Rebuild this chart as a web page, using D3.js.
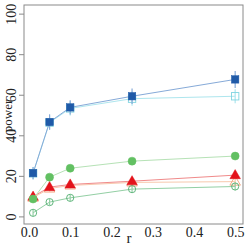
<!DOCTYPE html>
<html>
<head>
<meta charset="utf-8">
<script src="https://cdn.jsdelivr.net/npm/d3@7"></script>
<style>
  body { margin: 0; background: #fff; }
  text { font-family: "Liberation Serif", "DejaVu Serif", serif; }
</style>
</head>
<body>
<script>
'use strict';

let rValues = [0.01, 0.05, 0.1, 0.25, 0.5];
let xTicks = [0.0, 0.1, 0.2, 0.3, 0.4, 0.5];
let yTicks = [0, 20, 40, 60, 80, 100];

// power values per series
let orangeOpen = [9.5, 14, 15.5, 17, 17.4];
let orangeOpenErr = [1.5, 1.5, 1.5, 1.5, 1.5];
let greenOpen = [2, 7.3, 9.4, 13.7, 15];
let greenOpenErr = [1.5, 1.5, 1.5, 1.5, 1.8];
let redFilled = [10, 14.7, 16, 17.6, 20.6];
let redFilledErr = [1.5, 1.5, 1.5, 1.5, 1.8];
let greenFilled = [8.8, 19.6, 24, 27.5, 30];
let greenFilledErr = [1.5, 1.5, 1.5, 1.5, 1.8];
let cyanOpen = [21.5, 46.5, 53.5, 58.3, 59.5];
let cyanOpenErr = [3, 3.5, 3.5, 3.5, 3.5];
let blueFilled = [21.6, 46.8, 54, 59.5, 67.8];
let blueFilledErr = [3, 3.8, 3.5, 3.8, 4.2];

let width = 249;
let height = 249;
let mLeft = 24, mRight = 243, mTop = 5, mBottom = 224;

let x = d3.scaleLinear().domain([-0.012, 0.519]).range([mLeft, mRight]);
let y = d3.scaleLinear().domain([-3.5, 104.5]).range([mBottom, mTop]);

let series = [
  {vals: orangeOpen, err: orangeOpenErr, shape: 'tri', fill: 'none', stroke: '#f2a27a', line: '#f8c9ae'},
  {vals: greenOpen, err: greenOpenErr, shape: 'circle', fill: 'none', stroke: '#4fae6e', line: '#93cfa4'},
  {vals: redFilled, err: redFilledErr, shape: 'tri', fill: '#e3131b', stroke: '#e3131b', line: '#f08a8a'},
  {vals: greenFilled, err: greenFilledErr, shape: 'circle', fill: '#62c062', stroke: '#62c062', line: '#b6e2b6'},
  {vals: cyanOpen, err: cyanOpenErr, shape: 'square', fill: 'none', stroke: '#7fd4e0', line: '#aee6ee'},
  {vals: blueFilled, err: blueFilledErr, shape: 'square', fill: '#1f5aa8', stroke: '#1f5aa8', line: '#86aad8'}
];

let svg = d3.select('body').append('svg')
  .attr('width', width)
  .attr('height', height);

// frame
svg.append('rect')
  .attr('x', mLeft).attr('y', mTop)
  .attr('width', mRight - mLeft).attr('height', mBottom - mTop)
  .attr('fill', 'none')
  .attr('stroke', '#8a8a8a')
  .attr('stroke-width', 1);

// y axis
let yAxis = svg.append('g')
  .attr('transform', 'translate(' + mLeft + ',0)')
  .call(d3.axisLeft(y).tickValues(yTicks).tickSize(5).tickPadding(2).tickFormat(d3.format('d')));
yAxis.select('.domain').remove();
yAxis.selectAll('line').attr('stroke', '#8a8a8a');
yAxis.selectAll('.tick').attr('transform', null);
yAxis.selectAll('.tick line')
  .attr('y1', function(d) { return y(d); })
  .attr('y2', function(d) { return y(d); });
yAxis.selectAll('text')
  .attr('x', 0).attr('y', 0).attr('dy', null).attr('dx', null)
  .attr('transform', function(d) { return 'translate(-8,' + y(d) + ') rotate(-90)'; })
  .attr('text-anchor', 'middle')
  .style('font-size', '14px')
  .attr('fill', '#222');

// x axis
let xAxis = svg.append('g')
  .attr('transform', 'translate(0,' + mBottom + ')')
  .call(d3.axisBottom(x).tickValues(xTicks).tickSize(0).tickPadding(3).tickFormat(d3.format('.1f')));
xAxis.select('.domain').remove();
xAxis.selectAll('text')
  .attr('dy', '0.71em')
  .style('font-size', '14px')
  .attr('fill', '#222');

svg.append('text')
  .attr('x', x(0.25) - 3)
  .attr('y', 243)
  .attr('text-anchor', 'middle')
  .style('font-size', '15px')
  .attr('fill', '#222')
  .text('r');

svg.append('text')
  .attr('transform', 'translate(12,116) rotate(-90)')
  .attr('text-anchor', 'middle')
  .style('font-size', '13px')
  .attr('fill', '#222')
  .text('power');

let line = d3.line()
  .x(function(d) { return x(d.r); })
  .y(function(d) { return y(d.v); });

let triangle = d3.symbol().type(d3.symbolTriangle).size(48);

series.forEach(function(s) {
  let pts = rValues.map(function(r, i) { return {r: r, v: s.vals[i], e: s.err[i]}; });
  let g = svg.append('g');

  g.append('path')
    .datum(pts)
    .attr('d', line)
    .attr('fill', 'none')
    .attr('stroke', s.line)
    .attr('stroke-width', 1);

  g.selectAll('.err')
    .data(pts)
    .enter().append('line')
      .attr('x1', function(d) { return x(d.r); })
      .attr('x2', function(d) { return x(d.r); })
      .attr('y1', function(d) { return y(d.v - d.e); })
      .attr('y2', function(d) { return y(d.v + d.e); })
      .attr('stroke', s.line)
      .attr('stroke-width', 1.2);

  let m = g.selectAll('.mark').data(pts).enter();
  if (s.shape === 'circle') {
    m.append('circle')
      .attr('cx', function(d) { return x(d.r); })
      .attr('cy', function(d) { return y(d.v); })
      .attr('r', s.fill === 'none' ? 3.6 : 4)
      .attr('fill', s.fill === 'none' ? 'none' : s.fill)
      .attr('stroke', s.stroke)
      .attr('stroke-width', s.fill === 'none' ? 0.9 : 0.5);
  } else if (s.shape === 'square') {
    m.append('rect')
      .attr('x', function(d) { return x(d.r) - 3.7; })
      .attr('y', function(d) { return y(d.v) - 3.7; })
      .attr('width', 7.4)
      .attr('height', 7.4)
      .attr('fill', s.fill)
      .attr('stroke', s.stroke)
      .attr('stroke-width', s.fill === 'none' ? 0.9 : 0.5);
  } else {
    m.append('path')
      .attr('d', triangle)
      .attr('transform', function(d) { return 'translate(' + x(d.r) + ',' + (y(d.v) + 0.5) + ')'; })
      .attr('fill', s.fill)
      .attr('stroke', s.stroke)
      .attr('stroke-width', s.fill === 'none' ? 0.9 : 0.5);
  }
});
</script>
</body>
</html>
